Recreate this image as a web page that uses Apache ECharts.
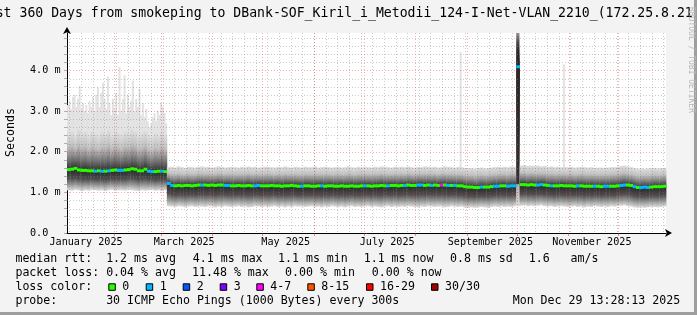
<!DOCTYPE html>
<html>
<head>
<meta charset="utf-8">
<script src="https://cdn.jsdelivr.net/npm/echarts@6.0.0/dist/echarts.min.js"></script>
<style>
html,body{margin:0;padding:0;background:#f3f3f3;}
#chart{width:697px;height:315px;}
</style>
</head>
<body>
<div id="chart"></div>
<script>
// ---------------- data ----------------
const startTime = '2025-01-03T13:28:13Z';
const endTime = '2025-12-29T13:28:13Z';
const binDays = 2;   // each value below covers 2 days

const medianRtt = [
  1.56,1.57,1.59,1.55,1.54,1.54,1.53,1.53,1.52,1.53,
  1.52,1.52,1.53,1.54,1.55,1.54,1.54,1.55,1.56,1.58,
  1.57,1.53,1.53,1.57,1.52,1.51,1.51,1.52,1.52,1.51,
  1.22,1.17,1.16,1.17,1.16,1.17,1.17,1.16,1.17,1.18,
  1.18,1.18,1.17,1.18,1.17,1.18,1.18,1.17,1.17,1.16,
  1.16,1.17,1.16,1.16,1.17,1.16,1.16,1.17,1.16,1.16,
  1.16,1.17,1.16,1.16,1.15,1.16,1.16,1.17,1.16,1.15,
  1.15,1.16,1.16,1.15,1.15,1.16,1.16,1.15,1.16,1.16,
  1.15,1.15,1.16,1.15,1.15,1.16,1.15,1.15,1.16,1.16,
  1.16,1.15,1.16,1.16,1.17,1.16,1.16,1.17,1.17,1.16,
  1.17,1.17,1.18,1.17,1.17,1.18,1.18,1.17,1.18,1.17,
  1.18,1.17,1.18,1.18,1.17,1.17,1.17,1.16,1.16,1.14,
  1.13,1.13,1.12,1.12,1.13,1.13,1.13,1.14,1.15,1.15,
  1.16,1.16,1.15,1.16,1.16,4.09,1.19,1.19,1.18,1.19,
  1.18,1.18,1.19,1.18,1.17,1.16,1.16,1.16,1.17,1.16,
  1.16,1.16,1.15,1.16,1.16,1.15,1.15,1.15,1.15,1.15,
  1.14,1.15,1.15,1.15,1.15,1.16,1.17,1.18,1.18,1.17,
  1.14,1.12,1.12,1.13,1.12,1.13,1.14,1.14,1.14,1.15
];

// index into lossColors / lossLabels
const lossIndex = [
  0,0,0,0,0,0,0,0,1,0,
  1,0,1,0,0,1,1,0,0,0,
  0,0,0,0,1,1,0,0,1,0,
  1,1,0,0,0,0,0,0,0,0,
  1,0,0,0,0,0,0,1,1,0,
  0,0,0,0,0,0,1,1,0,0,
  0,0,0,0,0,0,0,0,0,0,
  1,0,0,0,0,0,1,0,0,0,
  0,0,0,0,0,0,0,0,0,1,
  0,0,0,0,0,0,1,0,0,0,
  0,1,0,0,0,1,1,0,0,1,
  0,0,4,0,1,0,1,0,0,0,
  0,0,0,0,1,0,0,0,1,1,
  0,0,1,1,1,1,0,0,0,0,
  0,1,1,0,0,1,0,0,0,0,
  0,0,0,1,0,0,0,0,1,0,
  0,1,1,0,0,0,1,1,0,0,
  1,0,1,1,1,0,0,0,0,0
];

const smokeLow = [
  1.05,1.04,1.06,1.05,1.03,1.05,1.04,1.06,1.05,1.04,
  1.05,1.03,1.05,1.06,1.04,1.05,1.05,1.04,1.06,1.05,
  1.04,1.03,1.05,1.04,1.05,1.06,1.04,1.05,1.03,1.05,
  0.66,0.65,0.64,0.66,0.65,0.63,0.65,0.66,0.64,0.65,
  0.65,0.64,0.66,0.65,0.63,0.65,0.64,0.66,0.65,0.64,
  0.65,0.66,0.64,0.65,0.63,0.64,0.66,0.65,0.64,0.65,
  0.64,0.65,0.66,0.64,0.65,0.63,0.65,0.64,0.66,0.65,
  0.65,0.64,0.65,0.66,0.64,0.65,0.63,0.65,0.64,0.66,
  0.65,0.64,0.65,0.63,0.65,0.66,0.64,0.65,0.64,0.65,
  0.66,0.64,0.65,0.64,0.63,0.65,0.66,0.64,0.65,0.64,
  0.65,0.64,0.66,0.65,0.64,0.63,0.65,0.64,0.66,0.65,
  0.64,0.65,0.65,0.63,0.64,0.66,0.65,0.64,0.65,0.63,
  0.62,0.63,0.62,0.63,0.64,0.63,0.62,0.64,0.65,0.64,
  0.65,0.64,0.65,0.64,0.66,0.66,0.67,0.68,0.66,0.67,
  0.66,0.67,0.68,0.66,0.65,0.66,0.64,0.65,0.66,0.65,
  0.64,0.65,0.66,0.64,0.65,0.63,0.65,0.64,0.66,0.65,
  0.64,0.65,0.64,0.66,0.65,0.66,0.67,0.68,0.66,0.65,
  0.63,0.62,0.63,0.62,0.63,0.64,0.64,0.63,0.64,0.65
];

const smokeHigh = [
  2.45,2.50,2.40,2.55,2.45,2.50,2.40,2.50,2.45,2.40,
  2.50,2.45,2.55,2.40,2.50,2.45,2.40,2.50,2.45,2.55,
  2.50,2.40,2.45,2.50,2.40,2.35,2.45,2.40,2.50,2.40,
  1.62,1.63,1.61,1.64,1.62,1.60,1.63,1.62,1.61,1.63,
  1.64,1.62,1.63,1.61,1.62,1.64,1.63,1.61,1.62,1.63,
  1.62,1.61,1.63,1.62,1.64,1.62,1.63,1.61,1.62,1.63,
  1.63,1.62,1.61,1.63,1.62,1.64,1.62,1.61,1.63,1.62,
  1.61,1.63,1.62,1.62,1.64,1.61,1.62,1.63,1.62,1.61,
  1.62,1.63,1.61,1.62,1.64,1.62,1.61,1.63,1.62,1.63,
  1.62,1.61,1.63,1.62,1.64,1.63,1.62,1.61,1.63,1.62,
  1.63,1.62,1.64,1.62,1.61,1.63,1.62,1.64,1.63,1.62,
  1.63,1.61,1.62,1.64,1.63,1.62,1.61,1.63,1.62,1.60,
  1.59,1.60,1.58,1.60,1.61,1.59,1.60,1.61,1.62,1.63,
  1.62,1.63,1.62,1.64,1.63,4.92,1.66,1.67,1.65,1.66,
  1.65,1.66,1.64,1.65,1.63,1.64,1.62,1.63,1.62,1.63,
  1.62,1.63,1.61,1.62,1.63,1.62,1.61,1.62,1.60,1.61,
  1.61,1.60,1.61,1.62,1.62,1.63,1.65,1.66,1.64,1.62,
  1.60,1.58,1.59,1.58,1.59,1.60,1.60,1.59,1.60,1.60
];

// light-gray tall ping columns (day offset from start, 1 day wide)
const peakDay = [
  0,1,2,3,4,5,6,7,8,9,10,11,12,13,14,15,16,17,18,19,
  20,21,22,23,24,25,26,27,28,29,30,31,32,33,34,35,36,37,38,39,
  40,41,42,43,44,45,46,47,48,49,50,51,52,53,54,55,56,57,58,59,
  236,298
];
const peakRtt = [
  3.15,3.25,3.05,3.35,3.40,3.10,3.30,3.62,3.05,3.20,3.00,3.15,2.95,3.25,3.10,3.35,3.00,3.40,3.58,3.10,
  3.45,3.70,3.30,3.05,3.85,3.20,2.90,3.30,3.05,3.45,2.90,4.08,3.00,3.30,3.88,2.95,3.40,3.10,3.25,3.75,
  3.00,3.30,3.10,3.55,2.90,3.20,2.85,3.05,2.75,2.60,2.70,2.85,2.95,2.75,3.00,2.90,3.20,3.10,2.95,2.70,
  4.45,4.15
];

// dense burst of slow pings (end of September)
const burstDay = [270];
const burstDays = [1.8];
const burstLow = [1.2];
const burstHigh = [4.92];

const xLabelDates = ['2025-01-15','2025-03-15','2025-05-15','2025-07-15','2025-09-15','2025-11-15'];
const xLabels = ['January 2025','March 2025','May 2025','July 2025','September 2025','November 2025'];
const monthLines = ['2025-02-01','2025-03-01','2025-04-01','2025-05-01','2025-06-01','2025-07-01',
  '2025-08-01','2025-09-01','2025-10-01','2025-11-01','2025-12-01'];
const weekLines = ['2025-01-05','2025-01-12','2025-01-19','2025-01-26','2025-02-02','2025-02-09',
  '2025-02-16','2025-02-23','2025-03-02','2025-03-09','2025-03-16','2025-03-23','2025-03-30',
  '2025-04-06','2025-04-13','2025-04-20','2025-04-27','2025-05-04','2025-05-11','2025-05-18',
  '2025-05-25','2025-06-01','2025-06-08','2025-06-15','2025-06-22','2025-06-29','2025-07-06',
  '2025-07-13','2025-07-20','2025-07-27','2025-08-03','2025-08-10','2025-08-17','2025-08-24',
  '2025-08-31','2025-09-07','2025-09-14','2025-09-21','2025-09-28','2025-10-05','2025-10-12',
  '2025-10-19','2025-10-26','2025-11-02','2025-11-09','2025-11-16','2025-11-23','2025-11-30',
  '2025-12-07','2025-12-14','2025-12-21','2025-12-28'];
const yLabelValues = [0,1,2,3,4];
const yLabels = ['0.0','1.0 m','2.0 m','3.0 m','4.0 m'];
const yMajor = [1,2,3,4];
const yMinor = [0.2,0.4,0.6,0.8,1.2,1.4,1.6,1.8,2.2,2.4,2.6,2.8,3.2,3.4,3.6,3.8,4.2,4.4,4.6,4.8];

const lossColors = ['#26ff00','#00b8ff','#0059ff','#7e00ff','#ff00ff','#ff5500','#ff0000','#a10000'];
const lossLabels = ['0','1','2','3','4-7','8-15','16-29','30/30'];

const titleText = 'st 360 Days from smokeping to DBank-SOF_Kiril_i_Metodii_124-I-Net-VLAN_2210_(172.25.8.21';
const rttStats = ['1.2','4.1','1.1','1.1','0.8','1.6'];
const lossStats = ['0.04','11.48','0.00','0.00'];
const probeText = 'probe:       30 ICMP Echo Pings (1000 Bytes) every 300s';
const dateText = 'Mon Dec 29 13:28:13 2025';
const watermark = 'RRDTOOL / TOBI OETIKER';

// ---------------- build ----------------
const DAY = 86400000;
const T0 = Date.parse(startTime), T1 = Date.parse(endTime);
const MONO = '"DejaVu Sans Mono", monospace';
const GRAY = 'rgba(128,128,128,0.42)';
const RED = 'rgba(230,0,0,0.32)';

const smokeData = medianRtt.map((m, i) => [T0 + i * binDays * DAY, T0 + (i + 1) * binDays * DAY, smokeLow[i], smokeHigh[i], m]);
const medianData = medianRtt.map((m, i) => [T0 + i * binDays * DAY, T0 + (i + 1) * binDays * DAY, m, lossIndex[i]]);
const peakData = peakDay.map((d, k) => [T0 + d * DAY, T0 + (d + 1) * DAY, peakRtt[k]]);
const burstData = burstDay.map((d, k) => [T0 + d * DAY, T0 + (d + burstDays[k]) * DAY, burstLow[k], burstHigh[k]]);
const gridRows = [];
weekLines.forEach(d => gridRows.push([Date.parse(d), 0, 0]));
monthLines.forEach(d => gridRows.push([Date.parse(d), 0, 1]));
yMinor.forEach(v => gridRows.push([T0, v, 2]));
yMajor.forEach(v => gridRows.push([T0, v, 3]));
const labelTimes = xLabelDates.map(d => Date.parse(d));

function renderPeak(params, api) {
  const base = api.coord([api.value(0), 1.5]);
  const top = api.coord([api.value(1), api.value(2)]);
  return {type: 'rect', shape: {x: base[0], y: top[1], width: top[0] - base[0] + 0.3, height: base[1] - top[1]},
    style: {fill: '#e2e2e2'}};
}
function renderSmoke(params, api) {
  const lo = api.value(2), hi = api.value(3), med = api.value(4);
  const pLo = api.coord([api.value(0), lo]);
  const pHi = api.coord([api.value(1), hi]);
  const top = Math.max(pHi[1], params.coordSys.y);
  const m = Math.min(0.995, Math.max(0.005, (hi - med) / (hi - lo)));
  const a = f => m * f, b = f => m + (1 - m) * f;
  const grad = new echarts.graphic.LinearGradient(0, 0, 0, 1, [
    {offset: 0, color: '#dedede'},
    {offset: a(0.375), color: '#c0c0c0'},
    {offset: a(0.6), color: '#909090'},
    {offset: a(0.8), color: '#606060'},
    {offset: m, color: '#2c2c2c'},
    {offset: b(0.2), color: '#383838'},
    {offset: b(0.45), color: '#505050'},
    {offset: b(0.7), color: '#909090'},
    {offset: b(0.92), color: '#c8c8c8'},
    {offset: 1, color: '#dcdcdc'}
  ]);
  return {type: 'rect', shape: {x: pLo[0], y: top, width: pHi[0] - pLo[0] + 0.4, height: pLo[1] - top},
    style: {fill: grad}};
}
function renderBurst(params, api) {
  const pLo = api.coord([api.value(0), api.value(2)]);
  const pHi = api.coord([api.value(1), api.value(3)]);
  const top = Math.max(pHi[1], params.coordSys.y);
  const grad = new echarts.graphic.LinearGradient(0, 0, 0, 1, [
    {offset: 0, color: '#9a9a9a'},
    {offset: 0.06, color: '#4a4a4a'},
    {offset: 0.12, color: '#262626'},
    {offset: 1, color: '#303030'}
  ]);
  return {type: 'rect', shape: {x: pLo[0], y: top, width: pHi[0] - pLo[0], height: pLo[1] - top}, style: {fill: grad}};
}
function renderGrid(params, api) {
  const cs = params.coordSys;
  const kind = api.value(2);
  const p = api.coord([api.value(0), api.value(1)]);
  if (kind < 2) {
    const x = Math.round(p[0]) + 0.5;
    return {type: 'line', shape: {x1: x, y1: cs.y, x2: x, y2: cs.y + cs.height},
      style: {stroke: kind === 1 ? RED : GRAY, lineWidth: 1, lineDash: [1, 2]}};
  }
  const y = Math.round(p[1]) + 0.5;
  return {type: 'line', shape: {x1: cs.x, y1: y, x2: cs.x + cs.width, y2: y},
    style: {stroke: kind === 3 ? RED : GRAY, lineWidth: 1, lineDash: [1, 2]}};
}
function renderMedian(params, api) {
  const p0 = api.coord([api.value(0), api.value(2)]);
  const p1 = api.coord([api.value(1), api.value(2)]);
  return {type: 'rect', shape: {x: p0[0], y: p0[1] - 1.5, width: p1[0] - p0[0] + 0.4, height: 3},
    style: {fill: lossColors[api.value(3)]}};
}

// frame shading (drawn first, text on top)
const graphics = [];
graphics.push({type: 'rect', silent: true, shape: {x: 0, y: 312, width: 697, height: 3}, style: {fill: '#9e9e9e'}});
graphics.push({type: 'rect', silent: true, shape: {x: 694, y: 0, width: 3, height: 315}, style: {fill: '#9e9e9e'}});

function txt(x, y, s, size, extra) {
  graphics.push(Object.assign({type: 'text', x: x, y: y, silent: true,
    style: {text: s, fontFamily: MONO, fontSize: size, fill: '#000', align: 'left', verticalAlign: 'middle'}}, extra || {}));
}
txt(-4.3, 13.3, titleText, 13.17);
graphics.push({type: 'text', x: 691.5, y: 60, rotation: -Math.PI / 2, silent: true,
  style: {text: watermark, fontFamily: MONO, fontSize: 8, fill: '#b8b8b8', align: 'center', verticalAlign: 'middle'}});
graphics.push({type: 'text', x: 10.7, y: 132.5, rotation: Math.PI / 2, silent: true,
  style: {text: 'Seconds', fontFamily: MONO, fontSize: 11.6, fill: '#000', align: 'center', verticalAlign: 'middle'}});

const L1 = ['median rtt:  ' + rttStats[0] + ' ms avg', rttStats[1] + ' ms max', rttStats[2] + ' ms min',
  rttStats[3] + ' ms now', rttStats[4] + ' ms sd', rttStats[5] + '   am/s'];
const L1x = [15.4, 192.8, 278, 363.7, 450, 528.7];
L1.forEach((s, i) => txt(L1x[i], 259.3, s, 11.6));
const L2 = ['packet loss: ' + lossStats[0] + ' % avg', lossStats[1] + ' % max', lossStats[2] + ' % min', lossStats[3] + ' % now'];
const L2x = [15.4, 192, 285.1, 371.8];
L2.forEach((s, i) => txt(L2x[i], 273.3, s, 11.6));
txt(15.4, 287.3, 'loss color:', 11.6);
const boxX = [108.3, 145.7, 182.7, 219.7, 256.3, 307.3, 366, 431];
lossLabels.forEach((lab, i) => {
  graphics.push({type: 'rect', silent: true, shape: {x: boxX[i] + 0.5, y: 283.8, width: 6.5, height: 6.5},
    style: {fill: lossColors[i], stroke: '#000', lineWidth: 1}});
  txt(boxX[i] + 14, 287.3, lab, 11.6);
});
txt(15.4, 301, probeText, 11.6);
txt(512.7, 301, dateText, 11.6);

const chart = echarts.init(document.getElementById('chart'), null, {renderer: 'canvas'});
chart.setOption({
  backgroundColor: '#f3f3f3',
  animation: false,
  grid: {left: 67, top: 33, width: 599, height: 200, show: true, backgroundColor: '#ffffff', borderWidth: 0},
  xAxis: {
    type: 'value', min: T0, max: T1, scale: true,
    axisLine: {show: true, lineStyle: {color: '#000', width: 1}, symbol: ['none', 'arrow'], symbolSize: [6, 7], symbolOffset: [0, 6]},
    axisTick: {show: true, customValues: monthLines.map(d => Date.parse(d)), length: 3, lineStyle: {color: 'rgba(230,0,0,0.45)'}},
    axisLabel: {show: true, customValues: labelTimes, formatter: v => xLabels[labelTimes.indexOf(v)] || '',
      fontFamily: MONO, fontSize: 10.15, color: '#000', margin: 4},
    splitLine: {show: false}
  },
  yAxis: {
    type: 'value', min: 0, max: 4.92, interval: 1,
    axisLine: {show: true, lineStyle: {color: '#000', width: 1}, symbol: ['none', 'arrow'], symbolSize: [6, 7], symbolOffset: [0, 6]},
    axisTick: {show: true, customValues: [0].concat(yMajor, yMinor), length: 3, lineStyle: {color: 'rgba(128,128,128,0.6)'}},
    axisLabel: {show: true, customValues: yLabelValues, formatter: v => yLabels[yLabelValues.indexOf(v)] || '',
      fontFamily: MONO, fontSize: 10.15, color: '#000', align: 'left', margin: 37},
    splitLine: {show: false}
  },
  series: [
    {type: 'custom', name: 'peaks', renderItem: renderPeak, data: peakData, encode: {x: [0, 1], y: 2}, silent: true},
    {type: 'custom', name: 'smoke', renderItem: renderSmoke, data: smokeData, encode: {x: [0, 1], y: [2, 3, 4]}, silent: true},
    {type: 'custom', name: 'burst', renderItem: renderBurst, data: burstData, encode: {x: [0, 1], y: [2, 3]}, silent: true},
    {type: 'custom', name: 'grid', renderItem: renderGrid, data: gridRows, encode: {x: 0, y: 1}, silent: true},
    {type: 'custom', name: 'median', renderItem: renderMedian, data: medianData, encode: {x: [0, 1], y: 2}, silent: true}
  ],
  graphic: graphics
});
</script>
</body>
</html>
